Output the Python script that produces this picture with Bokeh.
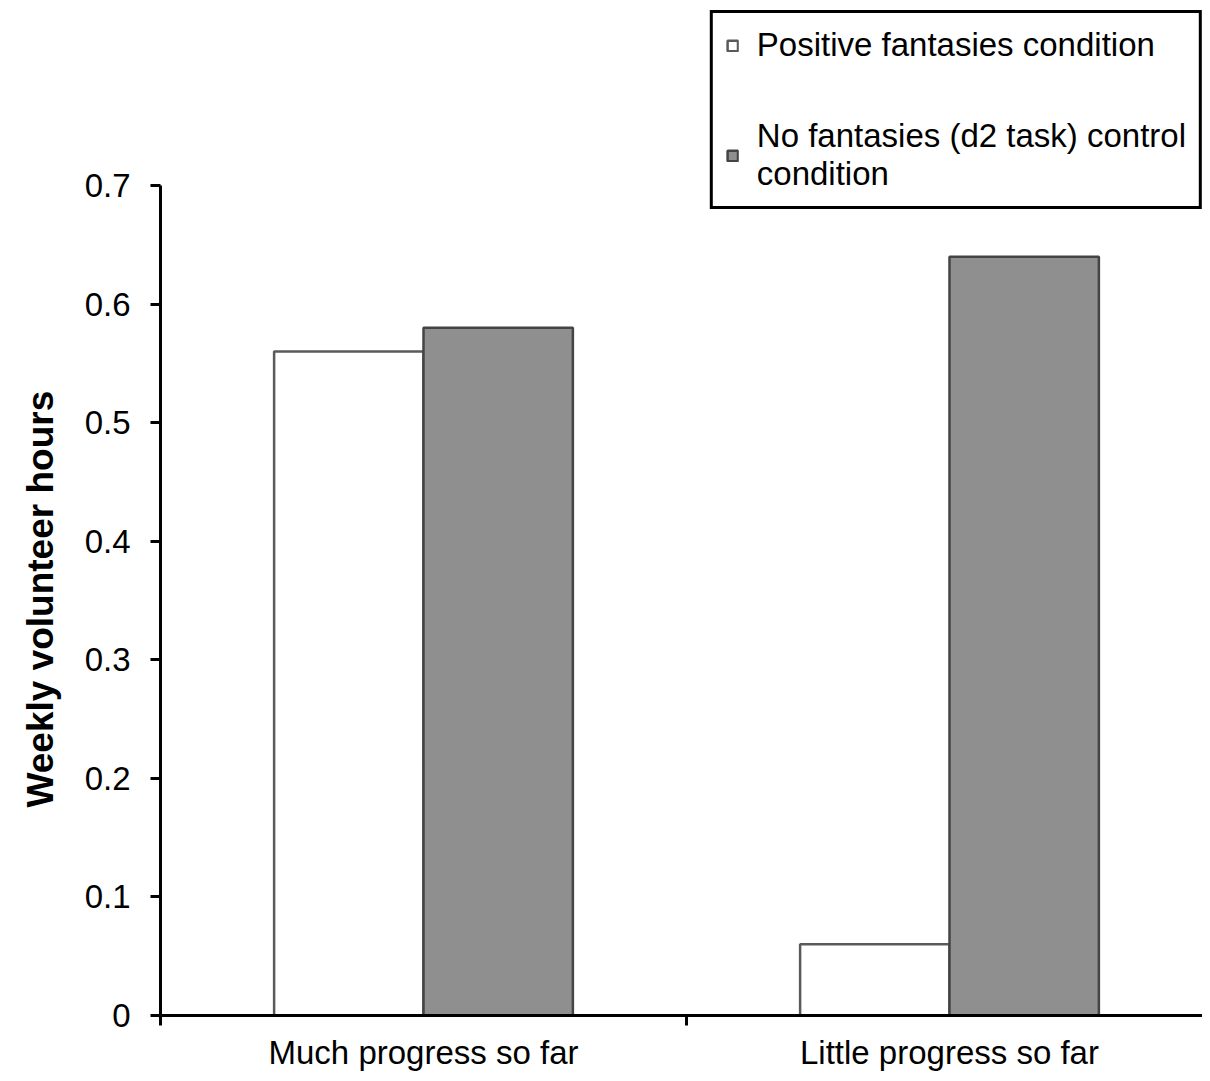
from bokeh.plotting import figure
from bokeh.models import (ColumnDataSource, FixedTicker, Legend, LegendItem,
                          Range1d, Title)
from bokeh.transform import dodge
from bokeh.embed import file_html
from bokeh.resources import INLINE

categories = ["Much progress so far", "Little progress so far"]
positive_fantasies = [0.56, 0.06]
no_fantasies_control = [0.58, 0.64]
y_ticks = [0, 0.1, 0.2, 0.3, 0.4, 0.5, 0.6, 0.7]
y_title = "Weekly volunteer hours"
series_labels = ["Positive fantasies condition",
                 "No fantasies (d2 task) control\ncondition"]

FONT = "Liberation Sans"

centers = [i + 0.5 for i in range(len(categories))]
src = ColumnDataSource(dict(x=centers, pos=positive_fantasies,
                            ctrl=no_fantasies_control))

p = figure(width=1202, height=1073, output_backend="svg",
           toolbar_location=None,
           x_range=Range1d(0, 1.981), y_range=Range1d(0, 0.8476),
           min_border_left=160, min_border_right=0, min_border_top=10,
           min_border_bottom=58)
p.outline_line_color = None
p.grid.visible = False

bw = 0.284
r1 = p.vbar(x=dodge("x", -bw / 2, range=p.x_range), top="pos", width=bw,
            source=src, fill_color="white", line_color="#5a5a5a",
            line_width=2.5)
r2 = p.vbar(x=dodge("x", bw / 2, range=p.x_range), top="ctrl", width=bw,
            source=src, fill_color="#8f8f8f", line_color="#444444",
            line_width=2.5)

# y axis
ya = p.yaxis[0]
ya.bounds = (0, max(y_ticks))
ya.ticker = FixedTicker(ticks=y_ticks, minor_ticks=[])
ya.major_label_overrides = {t: ("0" if t == 0 else f"{t:g}") for t in y_ticks}
ya.axis_line_width = 3
ya.axis_line_color = "black"
ya.major_tick_line_width = 3
ya.major_tick_out = 10
ya.major_tick_in = 0
ya.major_label_text_font = FONT
ya.major_label_text_font_size = "33px"
ya.major_label_text_color = "black"
ya.major_label_standoff = 20

# y title, placed along the drawn axis span (0 .. 0.7)
p.add_layout(Title(text=y_title, align="left", offset=208, standoff=38,
                   vertical_align="top",
                   text_font=FONT, text_font_style="bold",
                   text_font_size="37px", text_color="black"), "left")

# x axis: boundary ticks as minor ticks, labels at centers
xa = p.xaxis[0]
xa.ticker = FixedTicker(ticks=centers,
                        minor_ticks=list(range(len(categories) + 1)))
xa.major_label_overrides = {c: lab for c, lab in zip(centers, categories)}
xa.axis_line_width = 3
xa.axis_line_color = "black"
xa.major_tick_out = 0
xa.major_tick_in = 0
xa.minor_tick_out = 10
xa.minor_tick_in = 0
xa.minor_tick_line_width = 3
xa.minor_tick_line_color = "black"
xa.major_label_text_font = FONT
xa.major_label_text_font_size = "33px"
xa.major_label_text_color = "black"
xa.major_label_standoff = 8

legend = Legend(items=[LegendItem(label=series_labels[0], renderers=[r1]),
                       LegendItem(label=series_labels[1], renderers=[r2])],
                location="top_right")
legend.margin = 0
legend.padding = 13
legend.spacing = 53
legend.border_line_color = "black"
legend.border_line_alpha = 1
legend.border_line_width = 3
legend.glyph_width = 13
legend.glyph_height = 13
legend.label_standoff = 18
legend.label_text_font = FONT
legend.label_text_font_size = "33px"
legend.label_text_color = "black"
legend.label_height = 38
legend.background_fill_alpha = 1
p.add_layout(legend, "center")

open("out.html", "w").write(file_html(p, INLINE))
